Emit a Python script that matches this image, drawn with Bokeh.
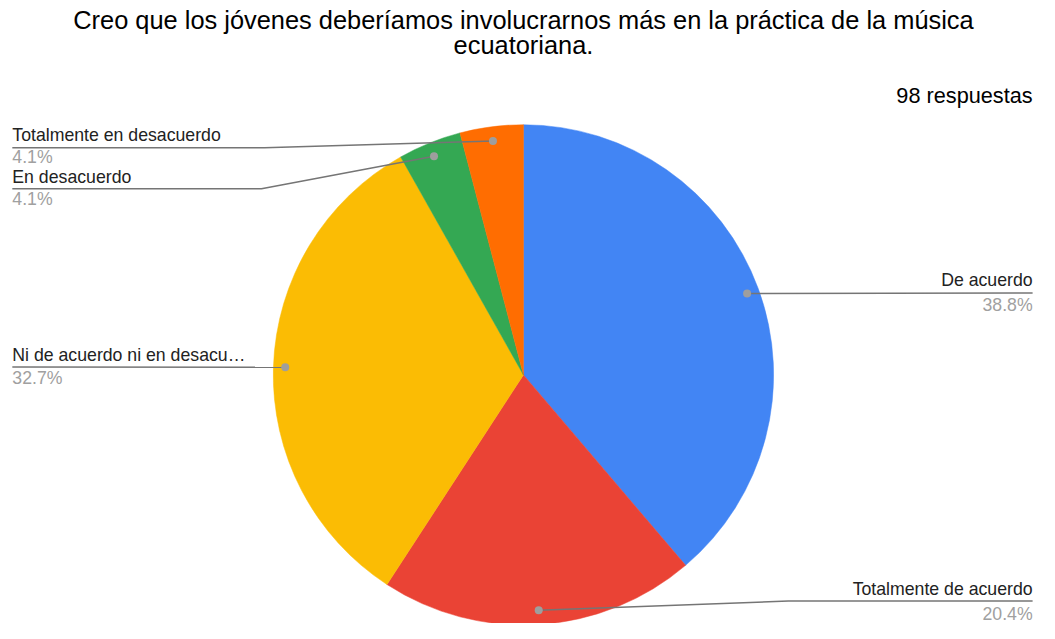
import math
from bokeh.plotting import figure
from bokeh.models import Range1d
from bokeh.core.properties import value
from bokeh.embed import file_html
from bokeh.resources import INLINE

# ---- data ----
categories = ["De acuerdo", "Totalmente de acuerdo", "Ni de acuerdo ni en desacuerdo",
              "En desacuerdo", "Totalmente en desacuerdo"]
shown_labels = ["De acuerdo", "Totalmente de acuerdo", "Ni de acuerdo ni en desacu\u2026",
                "En desacuerdo", "Totalmente en desacuerdo"]
counts = [38, 20, 32, 4, 4]
colors = ["#4285F4", "#EA4335", "#FBBC04", "#34A853", "#FF6D01"]
title_lines = ["Creo que los j\u00f3venes deber\u00edamos involucrarnos m\u00e1s en la pr\u00e1ctica de la m\u00fasica",
               "ecuatoriana."]
subtitle = "98 respuestas"

# ---- layout (reference pixel space, y down) ----
RW, RH = 1055, 639
FW, FH = 1039, 623
CX, CY, R = 531, 384, 254
DOT_R = 242
FONT = "Liberation Sans"

def Y(y):
    return RH - y

total = sum(counts)
fracs = [c / total for c in counts]
starts, ends, mids = [], [], []
cum = 0.0
for f in fracs:
    starts.append(math.pi / 2 - cum * 2 * math.pi)
    ends.append(math.pi / 2 - (cum + f) * 2 * math.pi)
    mids.append(cum + f / 2)
    cum += f

p = figure(width=FW, height=FH, output_backend="svg", toolbar_location=None,
           x_range=Range1d(0, RW), y_range=Range1d(0, RH), min_border=0)
p.axis.visible = False
p.grid.visible = False
p.outline_line_color = None
p.background_fill_color = "white"
p.border_fill_color = "white"

scale = FW / RW
p.wedge(x=[CX] * len(counts), y=[Y(CY)] * len(counts), radius=R * scale, radius_units="screen",
        start_angle=starts, end_angle=ends, direction="clock",
        fill_color=colors, line_color=colors, line_width=0.5)

# label layout: side, line y, elbow x, label y, pct y
layout = [
    ("right", 300, None, 287, 312),
    ("right", 616, 800, 604, 629),
    ("left", 376, None, 364, 387),
    ("left", 193, 265, 181, 204),
    ("left", 151, 268, 138, 161),
]
LEFT_X, RIGHT_X = 12, 1048

for i, (side, ly, ex, lab_y, pct_y) in enumerate(layout):
    a = mids[i] * 2 * math.pi
    dx = CX + DOT_R * math.sin(a)
    dy = CY - DOT_R * math.cos(a)
    if side == "right":
        xs = [dx] + ([ex] if ex else []) + [RIGHT_X]
        ys = [dy] + ([ly] if ex else []) + [ly]
        tx, align = RIGHT_X, "right"
    else:
        xs = [LEFT_X] + ([ex] if ex else []) + [dx]
        ys = [ly] + ([ly] if ex else []) + [dy]
        tx, align = LEFT_X, "left"
    p.line(xs, [Y(v) for v in ys], line_color="#757575", line_width=1.5)
    p.scatter([dx], [Y(dy)], size=8, fill_color="#9E9E9E", line_color=None)
    p.text([tx], [Y(lab_y)], text=[shown_labels[i]], text_align=align, text_baseline="middle",
           text_font=value(FONT), text_font_size="17.7px", text_color="#222222")
    p.text([tx], [Y(pct_y)], text=[f"{fracs[i] * 100:.1f}%"], text_align=align, text_baseline="middle",
           text_font=value(FONT), text_font_size="17.7px", text_color="#A0A0A0")

# title and subtitle
p.text([CX, CX], [Y(20), Y(46)], text=title_lines, text_align="center", text_baseline="middle",
       text_font=value(FONT), text_font_size="25.4px", text_color="#000000")
p.text([RIGHT_X], [Y(97)], text=[subtitle], text_align="right", text_baseline="middle",
       text_font=value(FONT), text_font_size="21.7px", text_color="#000000")

open("out.html", "w").write(file_html(p, INLINE))
